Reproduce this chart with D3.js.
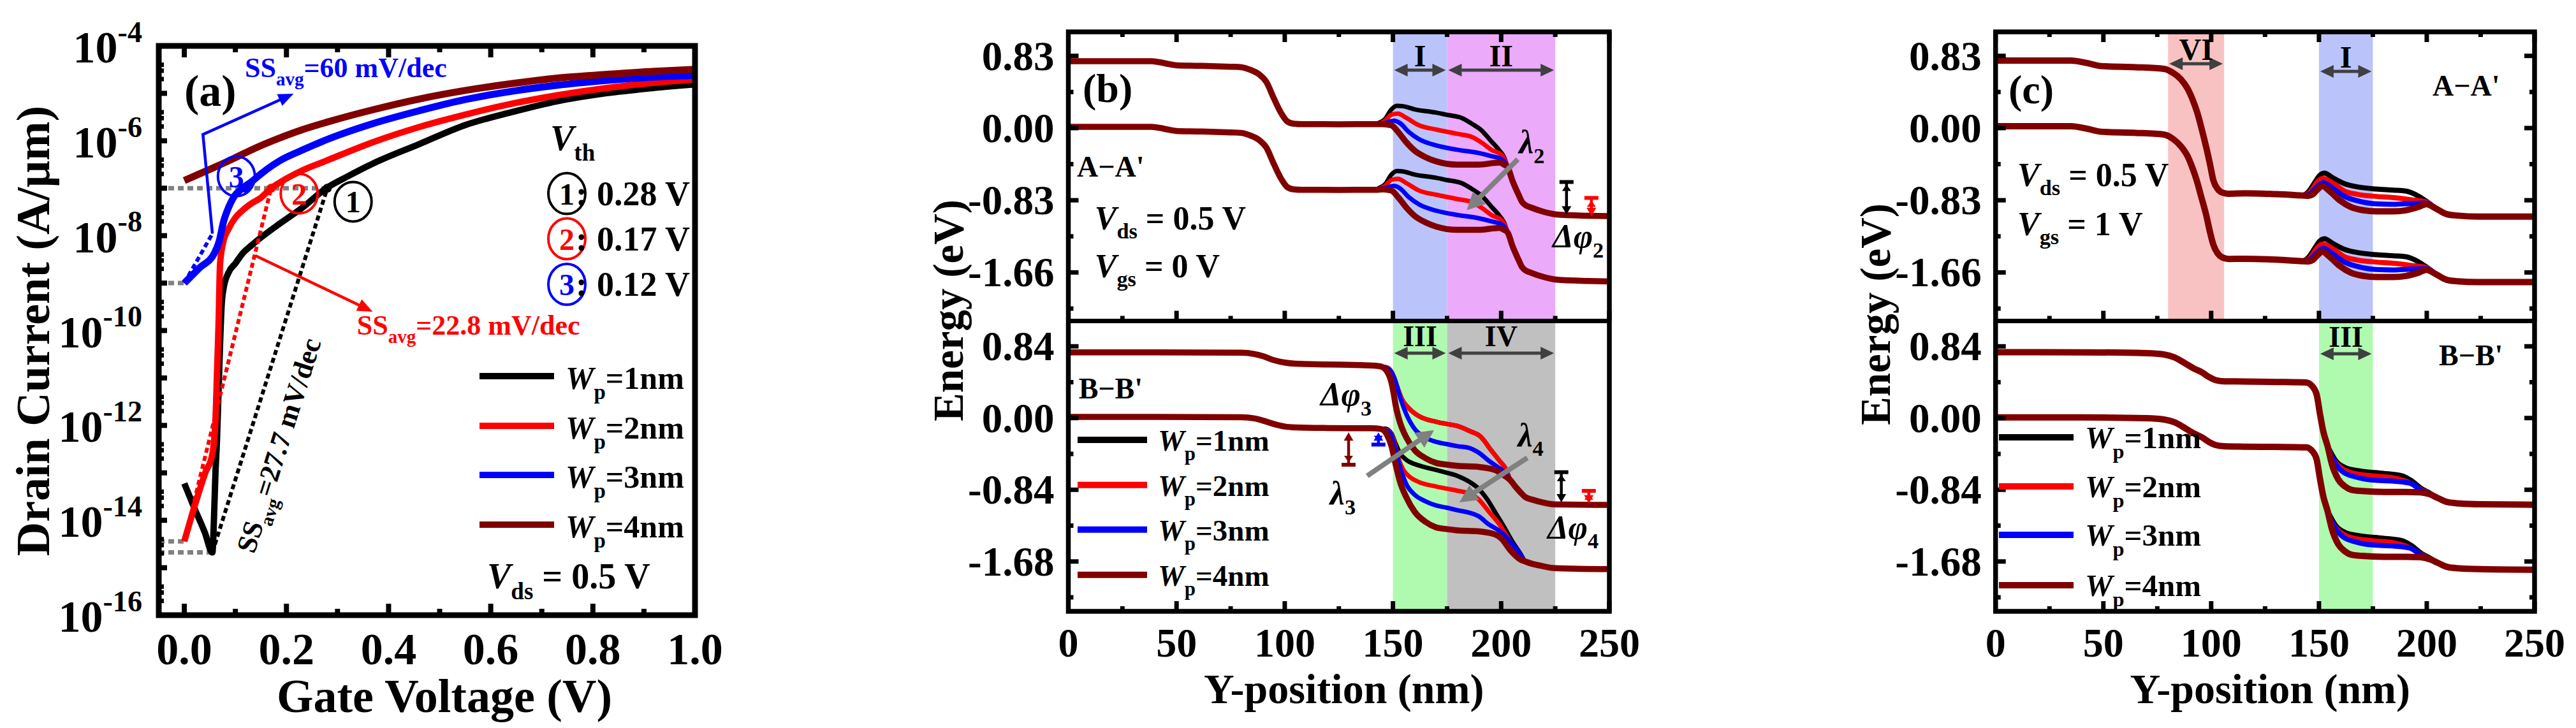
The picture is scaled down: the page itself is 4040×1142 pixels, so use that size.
<!DOCTYPE html>
<html><head><meta charset="utf-8">
<script src="https://cdn.jsdelivr.net/npm/d3@7"></script>
<style>
html,body{margin:0;padding:0;background:#fff;}
svg{display:block;}
text{font-family:"Liberation Serif","Times New Roman",serif;font-weight:bold;}
</style></head><body>
<svg id="chart" width="4040" height="1142"></svg>
<script>
// ================= DATA : panel (a) transfer curves, Vds = 0.5 V =================
const vgsDomain = [-0.05, 1.0];
const idDomain = [1e-16, 1e-4];
const vgsWp1 = [0, 0.02, 0.04, 0.055, 0.058, 0.061, 0.064, 0.067, 0.070, 0.073, 0.077, 0.087, 0.1, 0.114, 0.132, 0.15, 0.187, 0.23, 0.278, 0.32, 0.369, 0.46, 0.55, 0.64, 0.73, 0.825, 0.916, 1.0];
const idWp1  = [6.0e-14, 1.78e-14, 5.6e-15, 2.1e-15, 1e-14, 1e-13, 5.0e-13, 5.0e-12, 5.0e-11, 3.2e-10, 7.9e-10, 1.7e-9, 2.6e-9, 4.2e-9, 6.3e-9, 9.1e-9, 1.8e-8, 3.8e-8, 1.0e-7, 1.78e-7, 3.3e-7, 8.5e-7, 2.14e-6, 3.98e-6, 6.8e-6, 1.0e-5, 1.29e-5, 1.55e-5];
const vgsWp2 = [0, 0.023, 0.041, 0.055, 0.061, 0.064, 0.067, 0.070, 0.076, 0.087, 0.1, 0.114, 0.132, 0.15, 0.17, 0.187, 0.23, 0.278, 0.369, 0.46, 0.55, 0.64, 0.73, 0.825, 0.916, 1.0];
const idWp2  = [3.6e-15, 2.5e-14, 1.0e-13, 2.5e-13, 1.26e-12, 1.26e-11, 1.26e-10, 2.5e-9, 7.1e-9, 1.41e-8, 2.4e-8, 3.4e-8, 4.8e-8, 6.3e-8, 1.0e-7, 1.32e-7, 2.34e-7, 3.8e-7, 9.3e-7, 1.95e-6, 3.55e-6, 6.0e-6, 9.1e-6, 1.29e-5, 1.66e-5, 1.95e-5];
const vgsWp3 = [0, 0.03, 0.059, 0.068, 0.077, 0.087, 0.096, 0.114, 0.132, 0.15, 0.187, 0.23, 0.278, 0.369, 0.46, 0.55, 0.64, 0.73, 0.825, 0.916, 1.0];
const idWp3  = [1.0e-9, 2.1e-9, 4.3e-9, 7.4e-9, 2.0e-8, 4.0e-8, 6.3e-8, 1.0e-7, 1.38e-7, 2.0e-7, 3.8e-7, 6.3e-7, 1.05e-6, 2.3e-6, 4.3e-6, 7.4e-6, 1.1e-5, 1.48e-5, 1.86e-5, 2.2e-5, 2.4e-5];
const vgsWp4 = [0, 0.05, 0.096, 0.14, 0.187, 0.23, 0.278, 0.369, 0.46, 0.55, 0.64, 0.73, 0.825, 0.916, 1.0];
const idWp4  = [1.45e-7, 2.5e-7, 4.2e-7, 7.1e-7, 1.15e-6, 1.7e-6, 2.45e-6, 4.5e-6, 7.6e-6, 1.15e-5, 1.6e-5, 2.1e-5, 2.5e-5, 2.9e-5, 3.2e-5];
const vthValues = [0.28, 0.17, 0.12];
const vthLabels = ['0.28 V', '0.17 V', '0.12 V'];
const ithValue = 1e-7;
const ssFitWp1 = [[0.055, 2.1e-15], [0.28, 1e-7]];
const ssFitWp2 = [[0, 3.6e-15], [0.17, 1e-7]];
const ssFitWp3 = [[0, 1e-9], [0.055, 1.1e-8]];
const refLines = [[[-0.05, 1e-7], [0.28, 1e-7]], [[-0.05, 1e-9], [0, 1e-9]], [[-0.05, 3.6e-15], [0, 3.6e-15]], [[-0.05, 2.1e-15], [0.055, 2.1e-15]]];
const vgsTicks = [0, 0.2, 0.4, 0.6, 0.8, 1.0];
const vgsMinorTicks = [0.1, 0.3, 0.5, 0.7, 0.9];
const idLabelExps = [-16, -14, -12, -10, -8, -6, -4];
const wpNames = ['1nm', '2nm', '3nm', '4nm'];

// ================= DATA : panels (b),(c) band diagrams  [position nm, energy eV] =================
const posDomain = [0, 250];
const eDomainA = [-2.218, 1.106];
const eDomainB = [-2.264, 1.137];
const posTicks = [0, 50, 100, 150, 200, 250];
const posMinorTicks = [25, 75, 125, 175, 225];
const eTicksA = [0.83, 0, -0.83, -1.66];
const eTickLabelsA = ['0.83', '0.00', '-0.83', '-1.66'];
const eMinorA = [0.415, -0.415, -1.245, -2.075];
const eTicksB = [0.84, 0, -0.84, -1.68];
const eTickLabelsB = ['0.84', '0.00', '-0.84', '-1.68'];
const eMinorB = [0.42, -0.42, -1.26, -2.1];

// (b) A-A', Vgs = 0 V
const bA_cb_left = [[0,0.769],[38,0.769],[42,0.758],[46,0.738],[50,0.722],[60,0.716],[75,0.705],[80,0.70],[84,0.67],[88,0.62],[91.5,0.53],[95,0.34],[98.5,0.165],[101,0.08],[104,0.05],[108,0.045],[125,0.044],[142,0.045]];
const bA_cb_right = [[203,-0.45],[205.2,-0.603],[208.2,-0.774],[209.6,-0.847],[211.1,-0.884],[214,-0.915],[218.9,-0.957],[225.8,-0.994],[240,-1.008],[250,-1.013]];
const bA_cb_wp1 = [[143.5,0.06],[146.4,0.105],[149.3,0.215],[151.8,0.256],[154.7,0.251],[160.1,0.215],[170,0.178],[174.6,0.154],[181.7,0.117],[187.6,0.032],[190.5,-0.017],[195.4,-0.151],[199.3,-0.261],[201.3,-0.334]];
const bA_cb_wp2 = [[144,0.055],[146.4,0.085],[149.3,0.154],[152.3,0.166],[156.2,0.117],[162,0.032],[170,-0.017],[179.7,-0.066],[186.6,-0.103],[191.5,-0.176],[195.4,-0.249],[200.3,-0.31]];
const bA_cb_wp3 = [[144.5,0.05],[147.4,0.066],[150.3,0.085],[153.3,0.056],[157.2,-0.042],[162,-0.127],[170,-0.2],[179.7,-0.249],[189.5,-0.286],[195.4,-0.322],[200.3,-0.359]];
const bA_cb_wp4 = [[145,0.045],[149.3,0.032],[152.3,-0.042],[156.2,-0.164],[160.1,-0.261],[165,-0.334],[170,-0.383],[179.7,-0.42],[189.5,-0.42],[199.3,-0.397],[201.3,-0.42]];
const bA_vb_left = [[0,0.014],[38,0.014],[42,0.003],[46,-0.017],[50,-0.033],[60,-0.039],[75,-0.05],[80,-0.055],[84,-0.085],[88,-0.135],[91.5,-0.225],[95,-0.415],[98.5,-0.59],[101,-0.675],[104,-0.705],[108,-0.71],[125,-0.711],[142,-0.71]];
const bA_vb_right = [[203,-1.2],[205.2,-1.353],[208.2,-1.524],[209.6,-1.597],[211.1,-1.634],[214,-1.665],[218.9,-1.707],[225.8,-1.744],[240,-1.758],[250,-1.763]];
const bA_vb_wp1 = [[143.5,-0.69],[146.4,-0.645],[149.3,-0.535],[151.8,-0.494],[154.7,-0.499],[160.1,-0.535],[170,-0.572],[174.6,-0.596],[181.7,-0.633],[187.6,-0.718],[190.5,-0.767],[195.4,-0.901],[199.3,-1.011],[201.3,-1.084]];
const bA_vb_wp2 = [[144,-0.695],[146.4,-0.665],[149.3,-0.596],[152.3,-0.584],[156.2,-0.633],[162,-0.718],[170,-0.767],[179.7,-0.816],[186.6,-0.853],[191.5,-0.926],[195.4,-0.999],[200.3,-1.06]];
const bA_vb_wp3 = [[144.5,-0.70],[147.4,-0.684],[150.3,-0.665],[153.3,-0.694],[157.2,-0.792],[162,-0.877],[170,-0.95],[179.7,-0.999],[189.5,-1.036],[195.4,-1.072],[200.3,-1.109]];
const bA_vb_wp4 = [[145,-0.705],[149.3,-0.718],[152.3,-0.792],[156.2,-0.914],[160.1,-1.011],[165,-1.084],[170,-1.133],[179.7,-1.17],[189.5,-1.17],[199.3,-1.147],[201.3,-1.17]];

// (b) B-B'
const bB_cb_left = [[0,0.77],[40,0.77],[80,0.765],[86,0.75],[90,0.725],[95,0.678],[100,0.65],[105,0.637],[120,0.628],[135,0.62],[141,0.615],[144.4,0.604]];
const bB_cb_right = [[204.2,-0.726],[206.5,-0.8],[209.1,-0.875],[211.1,-0.925],[215,-0.96],[218.9,-0.987],[224.8,-1.012],[250,-1.017]];
const bB_cb_wp1 = [[147.4,0.591],[150.3,0.492],[152.3,0.343],[154.2,0.218],[157.2,0.119],[162.1,0.02],[169.9,-0.043],[174.6,-0.068],[179.7,-0.092],[185.6,-0.154],[190.5,-0.217],[195.4,-0.378],[199.3,-0.503],[202.3,-0.602]];
const bB_cb_wp2 = [[147.4,0.591],[150.3,0.492],[152.3,0.343],[154.2,0.218],[157.2,0.119],[162.1,0.02],[169.9,-0.043],[174.6,-0.068],[179.7,-0.092],[185.6,-0.154],[190.5,-0.217],[195.4,-0.378],[199.3,-0.503],[202.3,-0.602]];
const bB_cb_wp3 = [[148.4,0.566],[151.3,0.417],[153.3,0.243],[156.2,0.044],[160.1,-0.13],[165,-0.229],[169.9,-0.279],[174.6,-0.304],[179.7,-0.329],[185.6,-0.353],[189.5,-0.403],[194.4,-0.503],[199.3,-0.59],[202.3,-0.652]];
const bB_cb_wp4 = [[147.4,0.541],[149.3,0.417],[150.3,0.293],[151.3,0.144],[153.3,-0.055],[156.2,-0.229],[160.1,-0.378],[165,-0.47],[169.9,-0.525],[174.6,-0.545],[179.7,-0.56],[189.5,-0.572],[197.4,-0.61],[200.3,-0.655]];
const bB_vb_left = [[0,0.014],[40,0.014],[80,0.01],[86,-0.005],[90,-0.03],[95,-0.07],[100,-0.1],[105,-0.11],[120,-0.117],[140,-0.12],[144.4,-0.128]];
const bB_vb_right = [[211.1,-1.68],[214,-1.705],[218.9,-1.733],[224.8,-1.758],[250,-1.77]];
const bB_vb_wp1 = [[146.4,-0.125],[149.3,-0.18],[151.3,-0.304],[153.3,-0.415],[156.2,-0.49],[160.1,-0.54],[165,-0.577],[169.9,-0.607],[174.6,-0.639],[179.7,-0.677],[185.6,-0.751],[189.5,-0.826],[193.5,-0.95],[197.4,-1.111],[201.3,-1.273],[205.2,-1.447],[209.1,-1.596]];
const bB_vb_wp2 = [[147.4,-0.142],[150.3,-0.254],[152.3,-0.453],[154.7,-0.602],[157.2,-0.677],[162.1,-0.751],[169.9,-0.801],[174.6,-0.826],[179.7,-0.851],[185.6,-0.888],[189.5,-0.95],[194.4,-1.099],[199.3,-1.248],[204.2,-1.447],[208.2,-1.596]];
const bB_vb_wp3 = [[148.4,-0.167],[151.3,-0.378],[153.3,-0.577],[156.2,-0.776],[160.1,-0.9],[165,-0.975],[169.9,-1.024],[174.6,-1.049],[179.7,-1.079],[185.6,-1.111],[189.5,-1.149],[194.4,-1.248],[199.3,-1.323],[204.2,-1.447],[208.2,-1.571]];
const bB_vb_wp4 = [[147.4,-0.204],[149.3,-0.328],[151.3,-0.55],[153.3,-0.75],[156.2,-0.93],[160.1,-1.1],[165,-1.215],[169.9,-1.28],[174.6,-1.30],[179.7,-1.315],[189.5,-1.327],[197.4,-1.365],[200.3,-1.415],[204.2,-1.546],[209.1,-1.66]];

// (c) A-A', Vgs = 1 V
const cA_cb_left = [[0,0.777],[35,0.777],[42,0.75],[49,0.713],[65,0.70],[78,0.681],[82.6,0.63],[86,0.56],[89,0.456],[91.5,0.32],[93.4,0.189],[95.5,0.0],[97.7,-0.22],[99.5,-0.42],[101,-0.6],[103,-0.70],[105,-0.74],[108,-0.755],[115.5,-0.75],[130,-0.76],[142,-0.775]];
const cA_cb_right = [[204.3,-0.926],[209.2,-0.989],[214.1,-1.006],[224,-1.018],[250,-1.018]];
const cA_cb_wp1 = [[145,-0.735],[148,-0.628],[150,-0.554],[152.5,-0.518],[156.9,-0.579],[161.9,-0.64],[167.8,-0.676],[176.6,-0.701],[184.5,-0.713],[190.4,-0.725],[196.4,-0.786],[200.3,-0.85]];
const cA_cb_wp2 = [[145.5,-0.745],[147,-0.70],[148.9,-0.628],[151.8,-0.579],[156.9,-0.64],[161.9,-0.725],[167.8,-0.762],[176.6,-0.786],[184.5,-0.799],[192.4,-0.823],[200.3,-0.855]];
const cA_cb_wp3 = [[146,-0.75],[149.5,-0.664],[152,-0.628],[156.9,-0.701],[161.9,-0.786],[167.8,-0.835],[176.6,-0.872],[184.5,-0.877],[192.4,-0.867],[200.3,-0.862]];
const cA_cb_wp4 = [[145,-0.779],[147.1,-0.762],[149.5,-0.701],[151.5,-0.664],[155,-0.725],[159.9,-0.835],[164.8,-0.908],[170.7,-0.945],[176.6,-0.957],[184.5,-0.957],[190.4,-0.945],[196.4,-0.905],[199.8,-0.875]];
const cA_vb_left = [[0,0.022],[35,0.022],[42,-0.005],[49,-0.042],[65,-0.055],[78,-0.074],[82.6,-0.13],[86,-0.21],[89,-0.32],[91.5,-0.47],[93.4,-0.61],[95.5,-0.80],[97.7,-1.0],[99.5,-1.2],[101,-1.34],[103,-1.44],[105,-1.485],[108,-1.505],[115.5,-1.503],[130,-1.513],[142,-1.53]];
const cA_vb_right = [[204.3,-1.681],[209.2,-1.744],[214.1,-1.761],[224,-1.77],[250,-1.77]];
const cA_vb_wp1 = [[145,-1.49],[148,-1.383],[150,-1.309],[152.5,-1.273],[156.9,-1.334],[161.9,-1.395],[167.8,-1.431],[176.6,-1.456],[184.5,-1.468],[190.4,-1.48],[196.4,-1.541],[200.3,-1.605]];
const cA_vb_wp2 = [[145.5,-1.50],[147,-1.455],[148.9,-1.383],[151.8,-1.334],[156.9,-1.395],[161.9,-1.48],[167.8,-1.517],[176.6,-1.541],[184.5,-1.554],[192.4,-1.578],[200.3,-1.61]];
const cA_vb_wp3 = [[146,-1.505],[149.5,-1.419],[152,-1.383],[156.9,-1.456],[161.9,-1.541],[167.8,-1.59],[176.6,-1.627],[184.5,-1.632],[192.4,-1.622],[200.3,-1.617]];
const cA_vb_wp4 = [[145,-1.534],[147.1,-1.517],[149.5,-1.456],[151.5,-1.419],[155,-1.48],[159.9,-1.59],[164.8,-1.663],[170.7,-1.70],[176.6,-1.712],[184.5,-1.712],[190.4,-1.70],[196.4,-1.66],[199.8,-1.63]];

// (c) B-B'
const cB_cb_left = [[0,0.771],[40,0.77],[70,0.76],[78,0.745],[83,0.71],[88,0.64],[92,0.58],[95.6,0.537],[99,0.48],[102,0.445],[106,0.43],[115,0.428],[130,0.423],[144,0.417],[147.1,0.367],[149,0.268],[150.5,0.044],[152,-0.155],[154,-0.329]];
const cB_cb_right = [[205,-0.935],[210,-0.987],[215,-1.0],[225,-1.01],[250,-1.015]];
const cB_cb_wp1 = [[155,-0.378],[157.9,-0.503],[161.9,-0.577],[169.7,-0.622],[179.6,-0.647],[188.5,-0.677],[192.4,-0.726],[198.3,-0.838],[201.4,-0.878]];
const cB_cb_wp2 = [[155.9,-0.453],[159.9,-0.577],[164.8,-0.639],[174.7,-0.677],[184.5,-0.701],[191.4,-0.751],[198.3,-0.851],[201.4,-0.885]];
const cB_cb_wp3 = [[156.9,-0.503],[160.9,-0.627],[166.8,-0.689],[174.7,-0.726],[184.5,-0.739],[192.4,-0.764],[198.3,-0.86],[201.4,-0.885]];
const cB_cb_wp4 = [[155.9,-0.53],[159,-0.72],[162,-0.80],[165,-0.84],[170,-0.855],[180,-0.865],[190,-0.865],[197,-0.87],[201.4,-0.893]];
const cB_vb_left = [[0,0.008],[40,0.008],[70,-0.002],[78,-0.017],[83,-0.05],[88,-0.12],[92,-0.18],[95.6,-0.224],[99,-0.28],[102,-0.315],[106,-0.33],[115,-0.335],[130,-0.338],[144,-0.343],[147.1,-0.393],[149,-0.492],[150.5,-0.716],[152,-0.915],[154,-1.089]];
const cB_vb_right = [[205,-1.695],[210,-1.747],[215,-1.76],[225,-1.77],[250,-1.777]];
const cB_vb_wp1 = [[155,-1.138],[157.9,-1.263],[161.9,-1.337],[169.7,-1.382],[179.6,-1.407],[188.5,-1.437],[192.4,-1.486],[198.3,-1.598],[201.4,-1.638]];
const cB_vb_wp2 = [[155.9,-1.213],[159.9,-1.337],[164.8,-1.399],[174.7,-1.437],[184.5,-1.461],[191.4,-1.511],[198.3,-1.611],[201.4,-1.645]];
const cB_vb_wp3 = [[156.9,-1.263],[160.9,-1.387],[166.8,-1.449],[174.7,-1.486],[184.5,-1.499],[192.4,-1.524],[198.3,-1.62],[201.4,-1.645]];
const cB_vb_wp4 = [[155.9,-1.29],[159,-1.48],[162,-1.56],[165,-1.60],[170,-1.615],[180,-1.625],[190,-1.625],[197,-1.63],[201.4,-1.653]];

// regions (nm)
const bRegionsA = [{x0:150, x1:175, label:'I'}, {x0:175, x1:225, label:'II'}];
const bRegionsB = [{x0:150, x1:175, label:'III'}, {x0:175, x1:225, label:'IV'}];
const cRegionsA = [{x0:80, x1:106, label:'VI'}, {x0:150, x1:175, label:'I'}];
const cRegionsB = [{x0:150, x1:175, label:'III'}];

// ================= STYLE / LAYOUT =================
const wpColors = ['#000000', '#ff0000', '#0000ff', '#800000'];
const regionColors = {I:'#BBC4FA', II:'#EBAAFA', III:'#B0FAB0', IV:'#C0C0C0', VI:'#F9C2C2'};
const svg = d3.select('#chart');
const defs = svg.append('defs');
function clip(id, x, y, w, h) {
  defs.append('clipPath').attr('id', id).append('rect').attr('x', x).attr('y', y).attr('width', w).attr('height', h);
  return 'url(#' + id + ')';
}
function rich(g, x, y, parts, o) {
  const t = g.append('text').attr('x', x).attr('y', y).attr('font-size', o.size)
    .attr('fill', o.color || '#000').attr('text-anchor', o.anchor || 'start');
  if (o.weight) t.attr('font-weight', o.weight);
  if (o.transform) t.attr('transform', o.transform);
  let shift = 0;
  parts.forEach(p => {
    const s = t.append('tspan').text(p.t);
    const target = p.sub ? o.size * (o.subShift || 0.28) : (p.sup ? -o.size * 0.46 : 0);
    if (target !== shift) { s.attr('dy', target - shift); shift = target; }
    if (p.sub || p.sup) s.attr('font-size', o.size * 0.66);
    if (p.italic) s.attr('font-style', 'italic');
  });
  return t;
}
function tri(g, tx, ty, fx, fy, len, wid, color) {
  const dx = tx - fx, dy = ty - fy, L = Math.hypot(dx, dy), ux = dx / L, uy = dy / L;
  const bx = tx - ux * len, by = ty - uy * len, px = -uy, py = ux;
  g.append('path').attr('d', `M${tx},${ty}L${bx + px * wid / 2},${by + py * wid / 2}L${bx - px * wid / 2},${by - py * wid / 2}Z`).attr('fill', color);
  return [bx + ux * 1, by + uy * 1];
}
function arrow(g, pts, o) {
  const n = pts.length;
  const base = tri(g, pts[n - 1][0], pts[n - 1][1], pts[n - 2][0], pts[n - 2][1], o.len, o.wid, o.color);
  let p = pts.slice(0, n - 1).concat([base]);
  if (o.both) {
    const b0 = tri(g, pts[0][0], pts[0][1], pts[1][0], pts[1][1], o.len, o.wid, o.color);
    p[0] = b0;
  }
  g.append('path').attr('d', d3.line()(p)).attr('fill', 'none').attr('stroke', o.color).attr('stroke-width', o.sw).attr('stroke-linejoin', 'miter');
}
function tick(g, x1, y1, x2, y2, w) {
  g.append('line').attr('x1', x1).attr('y1', y1).attr('x2', x2).attr('y2', y2).attr('stroke', '#000').attr('stroke-width', w);
}

// ================= PANEL (a) =================
(function () {
  const A = {l: 249, r: 1090, t: 72, b: 965};
  const x = d3.scaleLinear().domain(vgsDomain).range([A.l, A.r]);
  const y = d3.scaleLog().domain(idDomain).range([A.b, A.t]);
  const g = svg.append('g');
  const gc = g.append('g').attr('clip-path', clip('clipA', A.l, A.t, A.r - A.l, A.b - A.t));
  const line = d3.line().x(d => x(d[0])).y(d => y(d[1]));
  refLines.forEach(s => gc.append('path').attr('d', line(s)).attr('fill', 'none').attr('stroke', '#808080').attr('stroke-width', 7).attr('stroke-dasharray', '9,6'));
  const series = [d3.zip(vgsWp1, idWp1), d3.zip(vgsWp2, idWp2), d3.zip(vgsWp3, idWp3), d3.zip(vgsWp4, idWp4)];
  const cline = d3.line().x(d => x(d[0])).y(d => y(d[1])).curve(d3.curveMonotoneX);
  series.forEach((s, k) => gc.append('path').attr('d', cline(s)).attr('fill', 'none').attr('stroke', wpColors[k]).attr('stroke-width', k === 3 ? 11 : (k === 2 ? 11 : 10)).attr('stroke-linejoin', 'round'));
  [ssFitWp1, ssFitWp2, ssFitWp3].forEach((s, k) => gc.append('path').attr('d', line(s)).attr('fill', 'none').attr('stroke', wpColors[k]).attr('stroke-width', 6).attr('stroke-dasharray', '8,5'));
  vthValues.forEach((v, k) => g.append('circle').attr('cx', x(v)).attr('cy', y(ithValue)).attr('r', 7).attr('fill', wpColors[k]));
  // circled markers on curves
  const marks = [{v: 0.102, i: 1.78e-7, n: '3', c: wpColors[2]}, {v: 0.225, i: 7.7e-8, n: '2', c: wpColors[1]}, {v: 0.3305, i: 5.2e-8, n: '1', c: wpColors[0]}];
  marks.forEach(m => {
    g.append('ellipse').attr('cx', x(m.v)).attr('cy', y(m.i)).attr('rx', 29).attr('ry', 31).attr('fill', 'none').attr('stroke', m.c).attr('stroke-width', 4);
    g.append('text').attr('x', x(m.v)).attr('y', y(m.i) + 17).attr('text-anchor', 'middle').attr('font-size', 48).attr('fill', m.c).text(m.n);
  });
  // SS annotations
  arrow(g, [[x(0.055), y(1.1e-8)], [x(0.0365), y(1.36e-6)], [x(0.214), y(9.8e-6)]], {color: '#0000ff', sw: 4.5, len: 24, wid: 20});
  arrow(g, [[x(0.139), y(3.8e-9)], [x(0.369), y(2.5e-10)]], {color: '#ff0000', sw: 4.5, len: 24, wid: 20});
  rich(g, x(0.1185), y(2.22e-5), [{t: 'SS'}, {t: 'avg', sub: true}, {t: '=60 mV/dec'}], {size: 44, color: '#0000ff', subShift: 0.3});
  rich(g, x(0.338), y(8.2e-11), [{t: 'SS'}, {t: 'avg', sub: true}, {t: '=22.8 mV/dec'}], {size: 44, color: '#ff0000', subShift: 0.3});
  rich(g, 0, 0, [{t: 'SS'}, {t: 'avg', sub: true}, {t: '=27.7 mV/dec'}], {size: 44, color: '#000', subShift: 0.3, transform: `translate(${x(0.137)},${y(1.9e-15)}) rotate(-72.5)`});
  rich(g, 289, 166, [{t: '(a)'}], {size: 70});
  // Vth legend
  rich(g, 863, 236, [{t: 'V', italic: true}, {t: 'th', sub: true}], {size: 56, subShift: 0.29});
  [303.6, 374.5, 446].forEach((cy, k) => {
    const n = ['1', '2', '3'][k];
    g.append('ellipse').attr('cx', 889).attr('cy', cy).attr('rx', 29).attr('ry', 32).attr('fill', 'none').attr('stroke', wpColors[k]).attr('stroke-width', 4);
    g.append('text').attr('x', 889).attr('y', cy + 17).attr('text-anchor', 'middle').attr('font-size', 48).attr('fill', wpColors[k]).text(n);
    g.append('text').attr('x', 903).attr('y', cy + 18).attr('font-size', 54).text(':');
    g.append('text').attr('x', 936).attr('y', cy + 18).attr('font-size', 54).text(vthLabels[k]);
  });
  // Wp legend
  [590, 668, 745, 823].forEach((ly, k) => {
    g.append('line').attr('x1', 752).attr('x2', 869).attr('y1', ly).attr('y2', ly).attr('stroke', wpColors[k]).attr('stroke-width', 10);
    rich(g, 887, ly + 20, [{t: 'W', italic: true}, {t: 'p', sub: true}, {t: '=' + wpNames[k]}], {size: 50, subShift: 0.32});
  });
  rich(g, 764, 923, [{t: 'V', italic: true}, {t: 'ds', sub: true}, {t: ' = 0.5 V'}], {size: 56, subShift: 0.3});
  // frame & ticks
  g.append('rect').attr('x', A.l).attr('y', A.t).attr('width', A.r - A.l).attr('height', A.b - A.t).attr('fill', 'none').attr('stroke', '#000').attr('stroke-width', 9);
  vgsTicks.forEach(v => { tick(g, x(v), A.b, x(v), A.b - 18, 8); tick(g, x(v), A.t, x(v), A.t + 18, 8); });
  vgsMinorTicks.forEach(v => { tick(g, x(v), A.b, x(v), A.b - 10, 8); tick(g, x(v), A.t, x(v), A.t + 10, 8); });
  d3.range(-16, -3).forEach(e => tick(g, A.l, y(Math.pow(10, e)), A.l + 13, y(Math.pow(10, e)), 8));
  d3.range(-16, -4).forEach(e => [2, 3, 4].forEach(m => tick(g, A.l, y(m * Math.pow(10, e)), A.l + 8, y(m * Math.pow(10, e)), 7)));
  vgsTicks.forEach(v => g.append('text').attr('x', x(v)).attr('y', 1042).attr('text-anchor', 'middle').attr('font-size', 70).text(d3.format('.1f')(v)));
  idLabelExps.forEach(e => rich(g, 223, y(Math.pow(10, e)) + 26, [{t: '10'}, {t: String(e), sup: true}], {size: 70, anchor: 'end'}));
  g.append('text').attr('x', 697).attr('y', 1117).attr('text-anchor', 'middle').attr('font-size', 74).text('Gate Voltage (V)');
  g.append('text').attr('transform', 'translate(77,519) rotate(-90)').attr('text-anchor', 'middle').attr('font-size', 74).text('Drain Current (A/\u03bcm)');
})();

// ================= PANELS (b),(c) =================
function bandPanel(cfg) {
  const g = svg.append('g');
  const x = d3.scaleLinear().domain(posDomain).range([cfg.l, cfg.r]);
  const yU = d3.scaleLinear().domain(eDomainA).range([cfg.mid, cfg.t]);
  const yL = d3.scaleLinear().domain(eDomainB).range([cfg.b, cfg.mid]);
  cfg.regU.forEach(r => g.append('rect').attr('x', x(r.x0)).attr('y', cfg.t).attr('width', x(r.x1) - x(r.x0)).attr('height', cfg.mid - cfg.t).attr('fill', regionColors[r.label]));
  cfg.regL.forEach(r => g.append('rect').attr('x', x(r.x0)).attr('y', cfg.mid).attr('width', x(r.x1) - x(r.x0)).attr('height', cfg.b - cfg.mid).attr('fill', regionColors[r.label]));
  const gu = g.append('g').attr('clip-path', clip(cfg.id + 'u', cfg.l, cfg.t, cfg.r - cfg.l, cfg.mid - cfg.t));
  const gl = g.append('g').attr('clip-path', clip(cfg.id + 'l', cfg.l, cfg.mid, cfg.r - cfg.l, cfg.b - cfg.mid));
  const lu = d3.line().x(d => x(d[0])).y(d => yU(d[1])).curve(d3.curveMonotoneX);
  const ll = d3.line().x(d => x(d[0])).y(d => yL(d[1])).curve(d3.curveMonotoneX);
  const draw = (gg, ln, band) => band.mids.forEach((m, k) => gg.append('path').attr('d', ln(band.left.concat(m, band.right)))
    .attr('fill', 'none').attr('stroke', wpColors[k]).attr('stroke-width', cfg.sw[k]).attr('stroke-linejoin', 'round').attr('stroke-linecap', 'butt'));
  draw(gu, lu, cfg.upper.cb); draw(gu, lu, cfg.upper.vb);
  draw(gl, ll, cfg.lower.cb); draw(gl, ll, cfg.lower.vb);
  // region arrows
  cfg.regU.forEach((r, i) => {
    const ay = cfg.arrowU[i];
    arrow(g, [[x(r.x0) + 2, ay], [x(r.x1) - 2, ay]], {color: '#404040', sw: 5, len: 21, wid: 20, both: true});
    g.append('text').attr('x', (x(r.x0) + x(r.x1)) / 2).attr('y', ay - 6).attr('text-anchor', 'middle').attr('font-size', 48).text(r.label);
  });
  cfg.regL.forEach((r, i) => {
    const ay = cfg.arrowL[i];
    arrow(g, [[x(r.x0) + 2, ay], [x(r.x1) - 2, ay]], {color: '#404040', sw: 5, len: 21, wid: 20, both: true});
    g.append('text').attr('x', (x(r.x0) + x(r.x1)) / 2).attr('y', ay - 11).attr('text-anchor', 'middle').attr('font-size', 46).text(r.label);
  });
  // frame
  g.append('rect').attr('x', cfg.l).attr('y', cfg.t).attr('width', cfg.r - cfg.l).attr('height', cfg.b - cfg.t).attr('fill', 'none').attr('stroke', '#000').attr('stroke-width', 7.5);
  g.append('line').attr('x1', cfg.l).attr('x2', cfg.r).attr('y1', cfg.mid).attr('y2', cfg.mid).attr('stroke', '#000').attr('stroke-width', 7);
  // x ticks
  posTicks.forEach(v => { tick(g, x(v), cfg.t, x(v), cfg.t + 16, 7); tick(g, x(v), cfg.mid, x(v), cfg.mid - 16, 7); tick(g, x(v), cfg.b, x(v), cfg.b - 16, 7); });
  posMinorTicks.forEach(v => { tick(g, x(v), cfg.t, x(v), cfg.t + 8, 7); tick(g, x(v), cfg.mid, x(v), cfg.mid - 8, 7); tick(g, x(v), cfg.b, x(v), cfg.b - 8, 7); });
  // y ticks
  const yt = (sc, maj, mnr) => {
    maj.forEach(v => { tick(g, cfg.l, sc(v), cfg.l + 16, sc(v), 7); if (cfg.rightTicks) tick(g, cfg.r, sc(v), cfg.r - 16, sc(v), 7); });
    mnr.forEach(v => { tick(g, cfg.l, sc(v), cfg.l + 8, sc(v), 7); if (cfg.rightTicks) tick(g, cfg.r, sc(v), cfg.r - 8, sc(v), 7); });
  };
  yt(yU, eTicksA, eMinorA); yt(yL, eTicksB, eMinorB);
  eTicksA.forEach((v, i) => g.append('text').attr('x', cfg.l - 22).attr('y', yU(v) + 22).attr('text-anchor', 'end').attr('font-size', 65).text(eTickLabelsA[i]));
  eTicksB.forEach((v, i) => g.append('text').attr('x', cfg.l - 22).attr('y', yL(v) + 22).attr('text-anchor', 'end').attr('font-size', 65).text(eTickLabelsB[i]));
  posTicks.forEach(v => g.append('text').attr('x', x(v)).attr('y', 1030).attr('text-anchor', 'middle').attr('font-size', 64).text(v));
  g.append('text').attr('x', (cfg.l + cfg.r) / 2 + 8).attr('y', 1103).attr('text-anchor', 'middle').attr('font-size', 66).text('Y-position (nm)');
  g.append('text').attr('transform', `translate(${cfg.l - 166},${cfg.titleY}) rotate(-90)`).attr('text-anchor', 'middle').attr('font-size', 67).text('Energy (eV)');
  // legend
  cfg.legY.forEach((ly, k) => {
    g.append('line').attr('x1', cfg.legX[0]).attr('x2', cfg.legX[1]).attr('y1', ly).attr('y2', ly).attr('stroke', wpColors[k]).attr('stroke-width', 10);
    rich(g, cfg.legX[2], ly + 17, [{t: 'W', italic: true}, {t: 'p', sub: true}, {t: '=' + wpNames[k]}], {size: cfg.legSize, subShift: 0.32});
  });
  return {g, x, yU, yL};
}

const pb = bandPanel({
  id: 'pb', l: 1675.5, r: 2524, t: 50, mid: 503.5, b: 959, sw: [7, 7, 7, 9.5], rightTicks: false, titleY: 487,
  regU: bRegionsA, regL: bRegionsB, arrowU: [110, 110], arrowL: [554, 554],
  upper: {cb: {left: bA_cb_left, right: bA_cb_right, mids: [bA_cb_wp1, bA_cb_wp2, bA_cb_wp3, bA_cb_wp4]},
          vb: {left: bA_vb_left, right: bA_vb_right, mids: [bA_vb_wp1, bA_vb_wp2, bA_vb_wp3, bA_vb_wp4]}},
  lower: {cb: {left: bB_cb_left, right: bB_cb_right, mids: [bB_cb_wp1, bB_cb_wp2, bB_cb_wp3, bB_cb_wp4]},
          vb: {left: bB_vb_left, right: bB_vb_right, mids: [bB_vb_wp1, bB_vb_wp2, bB_vb_wp3, bB_vb_wp4]}},
  legY: [690, 760.7, 830.7, 901.7], legX: [1690, 1799, 1816], legSize: 47
});
const pc = bandPanel({
  id: 'pc', l: 3129.7, r: 3975, t: 50, mid: 503.5, b: 959, sw: [8, 8, 8, 10], rightTicks: true, titleY: 493,
  regU: cRegionsA, regL: cRegionsB, arrowU: [100, 112], arrowL: [555],
  upper: {cb: {left: cA_cb_left, right: cA_cb_right, mids: [cA_cb_wp1, cA_cb_wp2, cA_cb_wp3, cA_cb_wp4]},
          vb: {left: cA_vb_left, right: cA_vb_right, mids: [cA_vb_wp1, cA_vb_wp2, cA_vb_wp3, cA_vb_wp4]}},
  lower: {cb: {left: cB_cb_left, right: cB_cb_right, mids: [cB_cb_wp1, cB_cb_wp2, cB_cb_wp3, cB_cb_wp4]},
          vb: {left: cB_vb_left, right: cB_vb_right, mids: [cB_vb_wp1, cB_vb_wp2, cB_vb_wp3, cB_vb_wp4]}},
  legY: [686, 763, 839, 918], legX: [3135, 3252, 3270], legSize: 49
});

// ---- annotations (b) ----
function dphi(g, x, yBar, yTip, color) {
  const dir = Math.sign(yTip - yBar);
  g.append('line').attr('x1', x - 11).attr('x2', x + 11).attr('y1', yBar).attr('y2', yBar).attr('stroke', color).attr('stroke-width', 6);
  g.append('line').attr('x1', x).attr('x2', x).attr('y1', yBar).attr('y2', yTip - dir * 10).attr('stroke', color).attr('stroke-width', 4.5);
  tri(g, x, yTip, x, yBar, 13, 15, color);
  tri(g, x, yBar + dir * 4, x, yTip, 10, 14, color);
}
(function () {
  const {g, x, yU, yL} = pb;
  const gray = {color: '#808080', sw: 8, len: 28, wid: 28};
  arrow(g, [[x(207.7), yU(-0.359)], [x(184.1), yU(-0.945)]], gray);
  arrow(g, [[x(138.1), yL(-0.677)], [x(169.0), yL(-0.142)]], gray);
  arrow(g, [[x(212.1), yL(-0.465)], [x(180.7), yL(-0.987)]], gray);
  const greek = (px, py, a, s) => rich(g, px, py, [{t: a, italic: true}, {t: s, sub: true}], {size: 52, weight: 'normal', subShift: 0.3});
  greek(x(208.2), yU(-0.286), '\u03bb', '2');
  greek(x(120.9), yL(-1.012), '\u03bb', '3');
  greek(x(207.7), yL(-0.328), '\u03bb', '4');
  greek(x(223.8), yU(-1.372), '\u0394\u03c6', '2');
  greek(x(116.5), yL(0.144), '\u0394\u03c6', '3');
  greek(x(221.4), yL(-1.41), '\u0394\u03c6', '4');
  dphi(g, x(230.2), yU(-0.62), yU(-0.994), '#000');
  dphi(g, x(241.7), yU(-0.803), yU(-1.013), '#ff0000');
  dphi(g, x(129.5), yL(-0.547), yL(-0.167), '#800000');
  dphi(g, x(143.3), yL(-0.311), yL(-0.167), '#0000ff');
  dphi(g, x(227.8), yL(-0.634), yL(-0.987), '#000');
  dphi(g, x(240.5), yL(-0.853), yL(-1.0), '#ff0000');
  rich(g, 1698, 160, [{t: '(b)'}], {size: 64});
  rich(g, 1689, 277, [{t: 'A\u2212A\''}], {size: 46});
  rich(g, 1691.7, 625, [{t: 'B\u2212B\''}], {size: 46});
  rich(g, 1716.7, 360, [{t: 'V', italic: true}, {t: 'ds', sub: true}, {t: ' = 0.5 V'}], {size: 52, subShift: 0.27});
  rich(g, 1716.7, 435, [{t: 'V', italic: true}, {t: 'gs', sub: true}, {t: ' = 0 V'}], {size: 52, subShift: 0.27});
})();
// ---- annotations (c) ----
(function () {
  const {g} = pc;
  rich(g, 3150, 162, [{t: '(c)'}], {size: 64});
  rich(g, 3815, 150, [{t: 'A\u2212A\''}], {size: 46});
  rich(g, 3825, 573, [{t: 'B\u2212B\''}], {size: 46});
  rich(g, 3164, 292, [{t: 'V', italic: true}, {t: 'ds', sub: true}, {t: ' = 0.5 V'}], {size: 52, subShift: 0.27});
  rich(g, 3164, 369, [{t: 'V', italic: true}, {t: 'gs', sub: true}, {t: ' = 1 V'}], {size: 52, subShift: 0.27});
})();
</script></body></html>
